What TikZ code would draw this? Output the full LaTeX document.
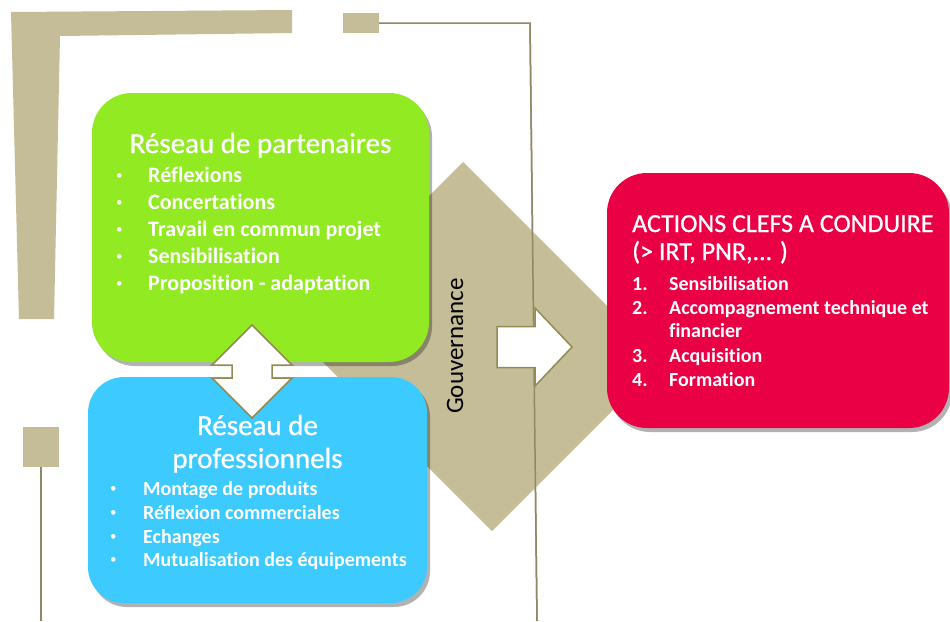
\documentclass[tikz,border=0pt]{standalone}
\usepackage{fontspec}
\setmainfont{Carlito}[Ligatures={NoCommon}]
\newfontfamily\titlefont{Carlito}[Ligatures={NoCommon}, FakeBold=0.8]
\usetikzlibrary{shadows}
\definecolor{bgtan}{HTML}{C4BD97}
\definecolor{tanline}{HTML}{8F8865}
\definecolor{arrowline}{HTML}{948A54}
\definecolor{lgreen}{HTML}{92EA22}
\definecolor{lblue}{HTML}{3DCBFF}
\definecolor{lred}{HTML}{EA0045}
\newcommand{\smallbul}{\raisebox{2.5pt}{\fontsize{13}{13}\selectfont\textbullet}}
\begin{document}
\begin{tikzpicture}[x=1pt,y=-1pt,
  tanfill/.style={fill=bgtan, draw=none},
  guide/.style={draw=tanline, line width=1.5pt},
  blockarrow/.style={fill=white, draw=arrowline, line width=1.5pt, line join=miter},
  box/.style={rectangle, inner sep=0pt, draw=none,
    drop shadow={shadow xshift=3pt, shadow yshift=-4pt, opacity=0.3, fill=black}},
  titletxt/.style={text=white, inner sep=0pt, anchor=base, font=\titlefont\fontsize{29}{33}\selectfont},
  redtitle/.style={text=white, inner sep=0pt, anchor=base west, font=\titlefont\fontsize{26}{28}\selectfont},
  gitem/.style={text=white, inner sep=0pt, anchor=base west, font=\bfseries\fontsize{22}{26}\selectfont},
  item/.style={text=white, inner sep=0pt, anchor=base west, font=\bfseries\fontsize{20}{24}\selectfont},
  bul/.style={text=white, inner sep=0pt, anchor=base west},
  govtxt/.style={text=black, inner sep=0pt, rotate=90, font=\fontsize{25}{30}\selectfont}
]
\useasboundingbox (0,0) rectangle (950,621);
\fill[white] (0,0) rectangle (950,621);

% decorative frame pieces
\fill[tanfill] (11,12) -- (292,10) -- (292,33) -- (60,36) -- (54,319) -- (19,319) -- cycle;
\node[tanfill, minimum width=36pt, minimum height=20pt, inner sep=0pt] (sqtop) at (361,23) {};
\coordinate (topcorner) at (530,23);
\coordinate (topend) at (537,621);
\draw[guide] (sqtop.east) -- (topcorner) -- (topend);
\node[tanfill, minimum width=36pt, minimum height=40pt, inner sep=0pt] (sqleft) at (41,447) {};
\coordinate (leftend) at (41,621);
\draw[guide] (sqleft.south) -- (leftend);

% governance diamond
\coordinate (dtop) at (463,162);
\coordinate (dright) at (662,361);
\coordinate (dbottom) at (492,531);
\coordinate (dleft) at (293,332);
\fill[tanfill] (dtop) -- (dright) -- (dbottom) -- (dleft) -- cycle;
\draw[guide] (topcorner) -- (topend);
\node[govtxt] (gov) at (455,346) {Gouvernance};

% right block arrow
\draw[blockarrow] (497,326.5) -- (535,326.5) -- (535,308) -- (572,347) -- (535,386) -- (535,367.5) -- (497,367.5) -- cycle;

% boxes
\node[box, fill=lgreen, rounded corners=40pt, minimum width=337pt, minimum height=269pt] (green) at (260.5,227.5) {};
\node[box, fill=lblue, rounded corners=36pt, minimum width=339pt, minimum height=226pt] (blue) at (257.5,490) {};
\node[box, fill=lred, rounded corners=40pt, minimum width=342pt, minimum height=255pt] (red) at (778,300.5) {};

% double block arrow
\draw[blockarrow] (252,325) -- (292,365) -- (272,365) -- (272,378) -- (292,378) -- (252,418)
  -- (212,378) -- (232,378) -- (232,365) -- (212,365) -- cycle;

% green text
\node[titletxt] (gtitle) at (260.5,153) {Réseau de partenaires};
\node[bul] (gb1) at (116,182) {\smallbul};
\node[gitem] (gi1) at (148,182) {Réflexions};
\node[bul] (gb2) at (116,209) {\smallbul};
\node[gitem] (gi2) at (148,209) {Concertations};
\node[bul] (gb3) at (116,236) {\smallbul};
\node[gitem] (gi3) at (148,236) {Travail en commun projet};
\node[bul] (gb4) at (116,263) {\smallbul};
\node[gitem] (gi4) at (148,263) {Sensibilisation};
\node[bul] (gb5) at (116,290) {\smallbul};
\node[gitem] (gi5) at (148,290) {Proposition - adaptation};

% blue text
\node[titletxt] (btitle1) at (257.5,435) {Réseau de};
\node[titletxt] (btitle2) at (257.5,468) {professionnels};
\node[bul] (bb1) at (110,495) {\smallbul};
\node[item] (bi1) at (143,495) {Montage de produits};
\node[bul] (bb2) at (110,519) {\smallbul};
\node[item] (bi2) at (143,519) {Réflexion commerciales};
\node[bul] (bb3) at (110,543) {\smallbul};
\node[item] (bi3) at (143,543) {Echanges};
\node[bul] (bb4) at (110,566) {\smallbul};
\node[item] (bi4) at (143,566) {Mutualisation des équipements};

% red text
\node[redtitle] (rtitle1) at (632,232) {ACTIONS CLEFS A CONDUIRE};
\node[redtitle] (rtitle2) at (632,260) {(> IRT, PNR,... )};
\node[item] (rn1) at (632,290) {1.};
\node[item] (ri1) at (669,290) {Sensibilisation};
\node[item] (rn2) at (632,314) {2.};
\node[item] (ri2) at (669,314) {Accompagnement technique et};
\node[item] (ri2b) at (669,337) {financier};
\node[item] (rn3) at (632,362) {3.};
\node[item] (ri3) at (669,362) {Acquisition};
\node[item] (rn4) at (632,386) {4.};
\node[item] (ri4) at (669,386) {Formation};
\end{tikzpicture}
\end{document}
